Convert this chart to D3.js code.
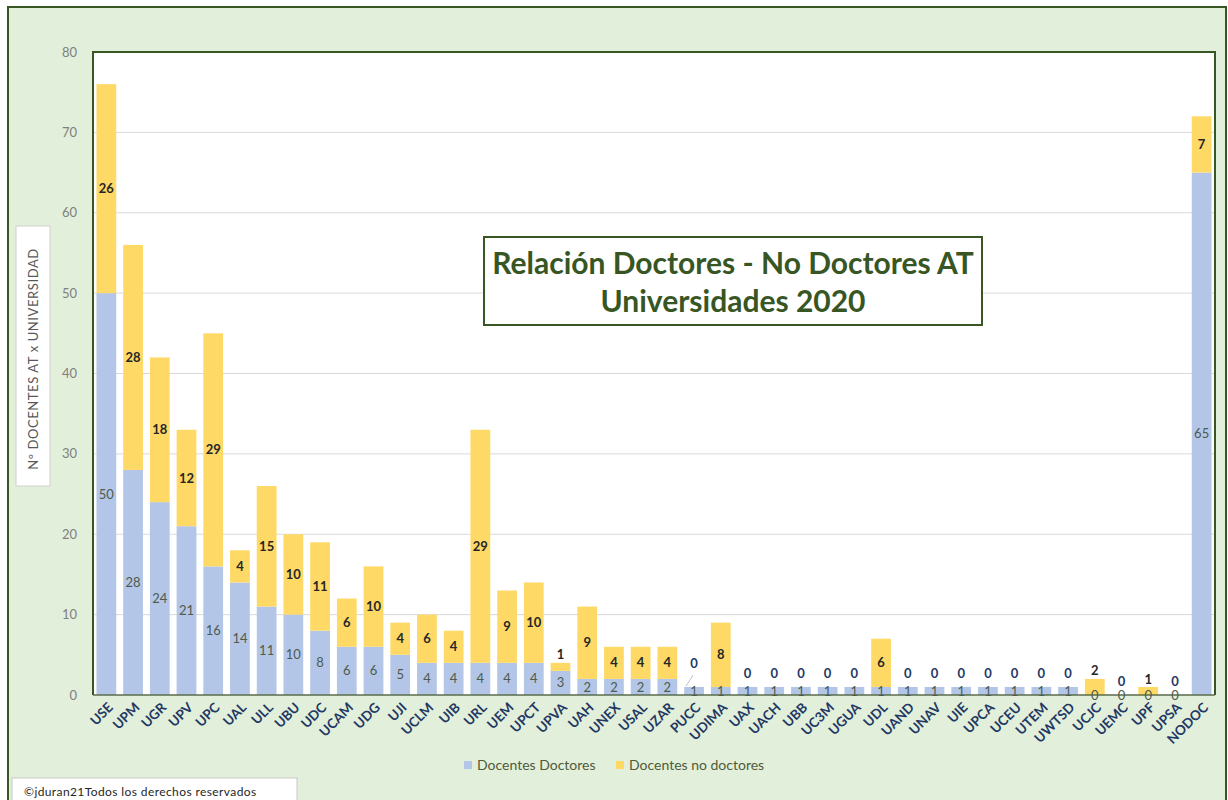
<!DOCTYPE html>
<html>
<head>
<meta charset="utf-8">
<script src="https://cdn.jsdelivr.net/npm/d3@7"></script>
<style>
  html, body { margin: 0; padding: 0; background: #fff; }
  svg { display: block; font-family: Lato, "Open Sans", sans-serif; }
</style>
</head>
<body>
<div id="chart"></div>
<script>
var universidades = ["USE", "UPM", "UGR", "UPV", "UPC", "UAL", "ULL", "UBU", "UDC", "UCAM", "UDG", "UJI", "UCLM", "UIB",
    "URL", "UEM", "UPCT", "UPVA", "UAH", "UNEX", "USAL", "UZAR", "PUCC", "UDIMA", "UAX", "UACH", "UBB", "UC3M", "UGUA",
    "UDL", "UAND", "UNAV", "UIE", "UPCA", "UCEU", "UTEM", "UWTSD", "UCJC", "UEMC", "UPF", "UPSA", "NODOC"];
var doctores = [50, 28, 24, 21, 16, 14, 11, 10, 8, 6, 6, 5, 4, 4,
    4, 4, 4, 3, 2, 2, 2, 2, 1, 1, 1, 1, 1, 1, 1,
    1, 1, 1, 1, 1, 1, 1, 1, 0, 0, 0, 0, 65];
var noDoctores = [26, 28, 18, 12, 29, 4, 15, 10, 11, 6, 10, 4, 6, 4,
    29, 9, 10, 1, 9, 4, 4, 4, 0, 8, 0, 0, 0, 0, 0,
    6, 0, 0, 0, 0, 0, 0, 0, 2, 0, 1, 0, 7];
var yTicks = [0, 10, 20, 30, 40, 50, 60, 70, 80];
var serieNames = ["Docentes Doctores", "Docentes no doctores"];

var W = 1228, H = 800,
    margin = {top: 52, right: 13, bottom: 105, left: 93},
    width = W - margin.left - margin.right,
    height = H - margin.top - margin.bottom;

var colors = ["#b4c6e7", "#ffd966"];
var darkGreen = "#385723";

var svg = d3.select("#chart").append("svg").attr("width", W).attr("height", H);

// fondo exterior
svg.append("rect").attr("width", W).attr("height", H).attr("fill", "#ffffff");
svg.append("rect")
    .attr("x", 8).attr("y", 7).attr("width", W - 10).attr("height", H)
    .attr("fill", "#e2efda").attr("stroke", darkGreen).attr("stroke-width", 2);

var g = svg.append("g").attr("transform", "translate(" + margin.left + "," + margin.top + ")");

var x = d3.scaleBand().domain(universidades).range([0, width]).paddingInner(0.26).paddingOuter(0.13);
var y = d3.scaleLinear().domain([0, 80]).range([height, 0]);

// area de trazado
g.append("rect").attr("width", width).attr("height", height).attr("fill", "#fff");

g.selectAll(".grid")
    .data(yTicks.filter(function(d) { return d > 0 && d < 80; }))
    .enter().append("line")
    .attr("class", "grid")
    .attr("x1", 0).attr("x2", width)
    .attr("y1", function(d) { return y(d); }).attr("y2", function(d) { return y(d); })
    .attr("stroke", "#d9d9d9").attr("stroke-width", 1);

var data = universidades.map(function(u, i) { return {u: u, doc: doctores[i], nodoc: noDoctores[i]}; });
var stack = d3.stack().keys(["doc", "nodoc"])(data);

var layers = g.selectAll(".serie")
    .data(stack)
    .enter().append("g")
    .attr("class", "serie")
    .attr("fill", function(d, i) { return colors[i]; });

layers.selectAll("rect")
    .data(function(d) { return d; })
    .enter().append("rect")
    .attr("x", function(d) { return x(d.data.u); })
    .attr("width", x.bandwidth())
    .attr("y", function(d) { return y(d[1]); })
    .attr("height", function(d) { return y(d[0]) - y(d[1]); });

// borde del area
g.append("path")
    .attr("d", "M0," + height + "V0H" + width + "V" + height)
    .attr("fill", "none").attr("stroke", darkGreen).attr("stroke-width", 2);
g.append("line")
    .attr("x1", 0).attr("x2", width).attr("y1", height).attr("y2", height)
    .attr("stroke", "#5a6b4a").attr("stroke-width", 1.5);

// etiquetas doctores
g.selectAll(".lblDoc")
    .data(stack[0])
    .enter().append("text")
    .attr("class", "lblDoc")
    .attr("x", function(d) { return x(d.data.u) + x.bandwidth() / 2; })
    .attr("y", function(d) { return (y(d[0]) + y(d[1])) / 2; })
    .attr("dy", "0.35em")
    .attr("text-anchor", "middle")
    .attr("fill", "#4d5b4d")
    .style("font-size", "13px")
    .text(function(d) { return d.data.doc; });

// etiquetas no doctores
g.selectAll(".lblNoDoc")
    .data(stack[1])
    .enter().append("text")
    .attr("class", "lblNoDoc")
    .attr("x", function(d) { return x(d.data.u) + x.bandwidth() / 2; })
    .attr("y", function(d) {
        var top = y(d[1]), h = y(d[0]) - y(d[1]);
        if (d.data.nodoc === 0) return top - (d.data.u === "PUCC" ? 24 : 14);
        if (h < 20) return top - 8;
        return top + h / 2;
    })
    .attr("dy", "0.35em")
    .attr("text-anchor", "middle")
    .attr("fill", function(d) { return d.data.nodoc === 0 ? "#1f3864" : "#262626"; })
    .style("font-size", "13px")
    .style("font-weight", "bold")
    .text(function(d) { return d.data.nodoc; });

// linea guia PUCC
var pucc = stack[1][universidades.indexOf("PUCC")];
g.append("line")
    .attr("x1", x("PUCC") + 2).attr("y1", y(pucc[1]) - 1)
    .attr("x2", x("PUCC") + 9).attr("y2", y(pucc[1]) - 12)
    .attr("stroke", "#bfbfbf").attr("stroke-width", 1);

// eje y
g.selectAll(".ytick")
    .data(yTicks)
    .enter().append("text")
    .attr("class", "ytick")
    .attr("x", -16).attr("y", function(d) { return y(d); })
    .attr("dy", "0.35em")
    .attr("text-anchor", "end")
    .attr("fill", "#808080")
    .style("font-size", "13px")
    .text(function(d) { return d; });

// eje x
g.selectAll(".xtick")
    .data(universidades)
    .enter().append("text")
    .attr("class", "xtick")
    .attr("transform", function(d) { return "translate(" + (x(d) + x.bandwidth() / 2 + 4) + "," + (height + 10) + ") rotate(-45)"; })
    .attr("text-anchor", "end")
    .attr("dy", "0.35em")
    .attr("fill", "#1f3864")
    .style("font-size", "13.5px")
    .style("font-weight", "bold")
    .text(function(d) { return d; });

// titulo eje y
svg.append("rect")
    .attr("x", 16).attr("y", 226).attr("width", 34).attr("height", 260)
    .attr("fill", "#fff").attr("stroke", "#d0d0d0");
svg.append("text")
    .attr("transform", "translate(38,359) rotate(-90)")
    .attr("text-anchor", "middle")
    .attr("fill", "#595959")
    .style("font-size", "13px")
    .style("letter-spacing", "0.6px")
    .text("Nº DOCENTES AT x UNIVERSIDAD");

// titulo
svg.append("rect")
    .attr("x", 484).attr("y", 237).attr("width", 498).attr("height", 88)
    .attr("fill", "#fff").attr("stroke", darkGreen).attr("stroke-width", 2);
svg.append("text")
    .attr("x", 733).attr("y", 274)
    .attr("text-anchor", "middle")
    .attr("fill", "#375623")
    .style("font-size", "30px").style("font-weight", "bold")
    .text("Relación Doctores - No Doctores AT");
svg.append("text")
    .attr("x", 733).attr("y", 312)
    .attr("text-anchor", "middle")
    .attr("fill", "#375623")
    .style("font-size", "30px").style("font-weight", "bold")
    .text("Universidades 2020");

// leyenda
var legend = svg.append("g").attr("transform", "translate(464,765)");
var legItems = legend.selectAll(".leg")
    .data(serieNames)
    .enter().append("g")
    .attr("class", "leg")
    .attr("transform", function(d, i) { return "translate(" + (i * 152) + ",0)"; });
legItems.append("rect")
    .attr("x", 0).attr("y", -4).attr("width", 8).attr("height", 8)
    .attr("fill", function(d, i) { return colors[i]; });
legItems.append("text")
    .attr("x", 13).attr("dy", "0.35em")
    .attr("fill", "#4f5b3b")
    .style("font-size", "14px")
    .text(function(d) { return d; });

// copyright
svg.append("rect")
    .attr("x", 12).attr("y", 778).attr("width", 285).attr("height", 30)
    .attr("fill", "#fff").attr("stroke", "#c8c8c8");
svg.append("text")
    .attr("x", 24).attr("y", 796)
    .attr("fill", "#262626")
    .style("font-size", "12px")
    .style("letter-spacing", "0.4px")
    .text("©jduran21Todos los derechos reservados");
</script>
</body>
</html>
